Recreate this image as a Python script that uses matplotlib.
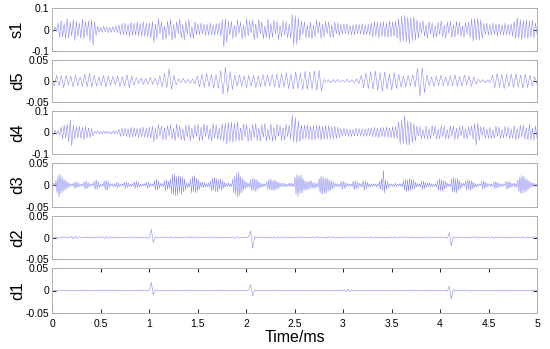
import numpy as np
import matplotlib
matplotlib.use('Agg')
import matplotlib.pyplot as plt

plt.rcParams['font.family'] = ['Liberation Sans', 'DejaVu Sans']
plt.rcParams['axes.unicode_minus'] = False

# extrema of each component, in units of 0.001, read left to right (0..5 ms)
s1 = [8,-10,12,-9,
      30,-38,42,-35,28,-45,50,-40,35,-30,45,-52,38,-33,30,-42,48,-44,36,-30,40,-55,45,-74,35,-28,
      15,-12,10,-14,16,-11,12,-15,10,-13,14,-12,18,-16,
      22,-25,28,-24,30,-27,25,-32,34,-28,30,-26,35,-30,28,-33,36,-31,30,-35,32,-40,
      38,-60,25,-40,50,-22,38,-48,18,-45,40,-28,48,-50,24,-42,36,-20,50,-40,22,-48,38,-24,46,-40,15,-42,38,-26,
      28,-25,30,-22,26,-28,24,-27,30,-25,22,-26,28,-24,30,-32,
      45,-80,50,-60,
      40,-25,38,-42,20,-36,44,-18,35,-46,22,-38,50,-30,40,-16,45,-48,26,-42,46,-20,36,-44,18,-38,48,-45,28,-36,44,-22,38,-46,20,-35,42,-28,36,-40,25,-42,
      70,-72,65,-70,55,-50,
      40,-24,36,-38,20,-40,35,-45,22,-36,44,-18,36,-42,24,-35,40,-20,37,-36,22,-38,35,-20,32,-30,
      24,-22,26,-20,28,-24,20,-26,22,-25,26,-20,24,-22,28,-26,22,-24,25,-28,
      32,-35,38,-30,36,-40,34,-32,38,-36,30,-38,40,-34,36,-32,38,-42,
      50,-58,62,-55,66,-60,58,-65,55,-52,60,-50,45,-40,
      35,-18,40,-32,22,-42,38,-20,32,-40,18,-36,34,-24,40,-35,20,-42,36,-18,40,-38,22,-36,38,-26,35,-32,18,-36,34,-22,36,-38,
      50,-55,52,-48,55,-50,45,-42,
      28,-25,30,-26,24,-28,30,-24,26,-30,28,-25,22,-27,30,-26,24,-28,26,-30,
      38,-42,55,-40,45,-48,42,-38,46,-44,40,-36,44,-42,30,-20]

d5 = [10,-12,14,-11,12,-15,13,-10,12,-14,15,-12,10,-13,16,-14,18,-15,14,-12,10,-11,13,-15,12,-10,11,-9,12,-14,10,-12,15,-16,12,-10,
      8,-6,7,-8,6,-7,9,-8,7,-10,
      12,-14,18,-16,30,-20,14,-10,
      5,-4,6,-5,4,-6,5,-7,
      12,-14,16,-15,18,-14,16,-18,15,-17,
      25,-32,33,-28,22,-20,
      14,-12,15,-13,12,-16,14,-12,13,-15,12,-14,16,-13,14,-12,
      15,-14,17,-16,18,-15,20,-18,16,-20,22,-18,19,-21,23,-20,22,-19,24,-22,
      25,-24,
      4,-3,3,-4,3,-3,4,-3,2,-3,4,-3,3,-4,5,-6,
      14,-16,20,-18,22,-20,24,-22,20,-25,22,-20,18,-22,20,-18,16,-15,
      12,-14,13,-12,15,-14,
      30,-36,32,-28,
      14,-12,10,-13,12,-11,14,-12,10,-11,13,-12,15,-13,11,-12,14,-10,12,-13,10,-8,
      4,-3,3,-4,3,-4,
      14,-16,18,-15,16,-18,15,-14,17,-16,18,-15,14,-17,16,-15,14,-12,10,-8]

d4 = [8,-10,12,-9,10,-12,
      25,-30,35,-28,40,-45,58,-62,35,-30,28,-25,
      30,-28,25,-32,30,-26,22,-24,18,-15,
      6,-5,7,-6,5,-8,6,-5,7,-6,5,-7,6,-5,8,-7,
      15,-18,20,-16,22,-20,18,-22,24,-20,22,-18,20,-24,22,-20,25,-22,20,-24,26,-28,
      30,-45,20,-32,38,-18,30,-36,22,-35,32,-16,36,-30,20,-38,40,-24,32,-34,18,-40,35,-22,36,-38,20,-30,36,-18,38,-40,24,-36,40,-20,35,-32,18,-40,42,-26,36,-34,20,-36,40,-42,
      45,-55,48,-44,50,-46,42,-40,
      50,-40,22,-38,40,-20,38,-42,18,-38,40,-24,42,-38,20,-40,38,-22,42,-40,16,-35,40,-42,24,-38,40,-18,34,-38,22,-36,38,-20,36,-32,
      82,-45,70,-48,55,-42,
      35,-32,34,-30,36,-33,30,-35,32,-34,36,-30,33,-35,30,-32,34,-31,33,-30,28,-32,30,-28,26,-25,
      18,-16,20,-15,18,-20,16,-18,15,-17,20,-16,18,-15,17,-19,16,-18,20,-17,
      22,-20,24,-22,20,-25,22,-20,24,-22,26,-24,22,-25,28,-26,30,-28,
      50,-55,60,-52,80,-58,55,-60,50,-48,42,-40,
      30,-16,28,-30,14,-28,30,-32,18,-30,32,-15,30,-33,16,-30,32,-20,30,-31,14,-30,32,-18,30,-33,20,-30,28,-16,30,-29,18,-30,28,-14,30,-32,
      42,-60,45,-38,
      28,-14,26,-28,16,-27,25,-29,12,-26,30,-18,26,-30,14,-27,29,-20,28,-30,16,-28,30,-33,18,-30,34,-20,35,-33,22,-34,38,-35,20,-36,30,-25]

d3 = [3,-2,4,-3, 10,-18,22,-28,25,-20,18,-15,14,-12,10,-8,6,-5, 3,-2,2,-3, 6,-8,7,-6,5,-4,
      2,-3,2,-2, 7,-9,10,-8,6,-5, 3,-2,3,-2, 8,-10,12,-10,8,-6, 2,-3,2,-3, 9,-11,10,-12,8,-6,
      3,-2,3,-4,2,-3, 6,-7,5,-4, 2,-3,2,-2, 6,-8,7,-6,5,-4, 2,-3,3,-2, 7,-8,9,-7,6,-5,
      2,-3,2,-2,3,-2, 6,-8,7,-5, 3,-2,2,-3, 10,-12,14,-11,9,-7, 4,-3,3,-4, 10,-14,12,-10,8,-7,
      14,-20,24,-22,26,-25,20,-24,22,-18,20,-22,18,-16,14,-12, 5,-6,4,-5,
      14,-18,20,-16,22,-18,15,-14,12,-10, 6,-5,7,-6,5,-4,3,-4,5,-6,
      10,-14,16,-12,18,-15,14,-16,12,-10,14,-12,10,-8,6,-5, 4,-3,5,-4,3,-4,
      14,-18,20,-22,25,-28,30,-24,20,-18,15,-12,10,-8, 6,-5,4,-6,
      12,-14,16,-12,14,-15,12,-10,8,-7, 4,-5,3,-4,3,-2,
      8,-10,12,-11,14,-12,10,-13,12,-10,8,-9,6,-5, 4,-3,5,-4,3,-4,2,-3,4,-3,5,-4,3,-4,
      18,-22,24,-26,22,-20,24,-18,15,-12, 10,-12,8,-10,9,-8,10,-7,6,-8,5,-6,4,-5,
      15,-18,20,-22,18,-20,16,-19,15,-14,12,-13,10,-9,8,-6, 4,-3,3,-4,2,-3,
      8,-10,9,-8,6,-5, 3,-2,3,-3,2,-3, 9,-11,10,-9,7,-6, 4,-3,3,-4, 10,-12,9,-8,6,-5,
      3,-4,2,-3,3,-2,3,-4,2,-3, 8,-10,14,-12,34,-18,12,-10,8,-6,
      3,-2,3,-4,2,-3,4,-3,2,-3,3,-2,3,-4, 10,-12,14,-16,12,-14,15,-12,13,-10,12,-8,6,-5,
      4,-3,3,-4, 8,-10,9,-8,6,-5, 4,-3,5,-4,3,-4,2,-3,3,-4, 10,-12,14,-13,12,-14,10,-9,8,-6,
      4,-3,3,-4, 14,-16,18,-17,15,-18,16,-12,10,-8, 4,-3,4,-3, 9,-11,12,-10,11,-12,10,-8,6,-5,
      3,-4,2,-3,3,-2, 8,-9,10,-8,6,-5, 3,-2,3,-4,2,-3, 7,-9,8,-7,6,-5, 3,-4,2,-3,3,-2,
      8,-10,9,-8,7,-6, 4,-3,5,-4,3,-5, 12,-15,18,-20,22,-18,20,-17,15,-14,12,-10,8,-6,
      5,-4,4,-3,3,-2]

d2 = [2,-2,1.5,-1.5,1,-1.5,1.5,-1,1,-1, 3,-3.5,3,-2.5,2,-1.5,1,-1,1.5,-1,
      1,-1.5,1,-1,1.5,-1,2,-2.5,2.5,-2, 2,-1.5,1,-1,1,-1,1.5,-1,1,-1.5,
      1.5,-2,2,-1.5,1,-1,1.5,-1.5,1,-2, 1,19,-12,2,-1.5,1,-1,1.5,-1,1,
      -1.5,2,-2,1.5,-1,1,-1.5,1,-1,1.5, -2,2.5,-2,2,-1.5,1,-1,1.5,-1,1,
      -1,1.5,-2,2,-1.5,1,-1,1,-1.5,1, -1,1.5,-1,2,-2.5,2,-1.5,1,-1,1.5,
      -1.5,2,15,-25,2,-1.5,1.5,-1,1.5,-1, 1,-1.5,1,-1,1.5,-2,2.5,-2,2,-1.5,
      1,-1,1.5,-1,1,-1.5,2,-2,1.5,-1, 1,-1,1.5,-1.5,2,-2,1.5,-1,1,-1,
      1.5,-2,2.5,-2,1.5,-1,1,-1.5,1,-1, 1,-1.5,2,-2,2.5,-2,1.5,-1,1,-1,
      1.5,-1,1,-1.5,2,-2,1.5,-1.5,1,-1, 1,-1.5,1,-1,1.5,-2,2,-1.5,1,-1,
      1.5,-1,2,-2,1.5,-1,1,-1.5,1,-1, 1,-1.5,2,-2,1.5,-1,1,-1,1.5,-1,
      1,-1.5,1.5,-2,12,-20,2,-1.5,1.5,-1.5, 1.5,-1,1,-1.5,1,-1,1.5,-1,2,-2,
      1.5,-1,1,-1,1.5,-1.5,2,-2.5,2,-1.5, 1,-1,1.5,-1,1,-1.5,1,-1,1.5,-1,
      1,-1.5,2,-2,1.5,-1,1,-1.5,2,-1]

d1 = [1,-1,0.5,-0.5,1,-0.5,0.5,-1,0.5,-0.5, 0.5,-0.5,1,-1,0.5,-0.5,1,-1,1.5,-1,
      1,-0.5,0.5,-1,1,-1,1.5,-1,1,-0.5, 1,-1,1.5,-1,1,-0.5,0.5,-1,0.5,-0.5,
      0.5,-0.5,1,-1,1.5,-1,1,-0.5,0.5,-1, 1,18,-10,1.5,-1,1,-1,0.5,-0.5,1,
      -1,1,-0.5,0.5,-1,1,-0.5,0.5,-1,1, -1,1.5,-1,1,-0.5,0.5,-0.5,1,-1,0.5,
      -0.5,1,-1,0.5,-0.5,1,-1,1,-0.5,0.5, -0.5,1,-1,1,-1,0.5,-0.5,1,-1,0.5,
      -1,1,13,-12,1.5,-1,1,-1,0.5,-0.5, 1,-1,0.5,-0.5,1,-1,1,-0.5,0.5,-1,
      1,-0.5,0.5,-1,1,-1,0.5,-0.5,1,-1, 0.5,-0.5,1,-1,0.5,-0.5,1,-1,1,-0.5,
      0.5,-1,1,-1,0.5,-0.5,1,-0.5,0.5,-1, 2,-3,3,-2,1,-1,0.5,-0.5,1,-1,
      0.5,-0.5,1,-1,1,-0.5,0.5,-1,1,-1, 1,-0.5,0.5,-1,1,-1,0.5,-0.5,1,-1,
      0.5,-0.5,1,-1,1,-0.5,1.5,-1,1,-1, 0.5,-0.5,1,-1,1,-1,0.5,-0.5,1,-1,
      0.5,-1,1,-1.5,10,-19,1.5,-1,1,-1, 1,-1,1.5,-1,1,-1.5,1,-0.5,0.5,-1,
      1,-0.5,0.5,-1,1,-1,0.5,-0.5,1,-1, 0.5,-0.5,1,-1,1,-0.5,0.5,-1,1,-1,
      0.5,-0.5,1,-1,0.5,-0.5,1,-1,1.5,-1]

names = ['s1', 'd5', 'd4', 'd3', 'd2', 'd1']
series = [s1, d5, d4, d3, d2, d1]
ylims = [0.1, 0.05, 0.1, 0.05, 0.05, 0.05]
ytick_labels = [['-0.1', '0', '0.1'], ['-0.05', '0', '0.05'], ['-0.1', '0', '0.1'],
                ['-0.05', '0', '0.05'], ['-0.05', '0', '0.05'], ['-0.05', '0', '0.05']]
xticks = [0, 0.5, 1, 1.5, 2, 2.5, 3, 3.5, 4, 4.5, 5]
xtick_labels = ['0', '0.5', '1', '1.5', '2', '2.5', '3', '3.5', '4', '4.5', '5']

fig = plt.figure(figsize=(5.5, 3.49), dpi=100)
W, H = 550.0, 349.0
tops = [8, 60, 111, 163, 216, 268]
bots = [51, 102, 154, 207, 259, 313]
left, right = 52, 537

for i in range(6):
    ax = fig.add_axes([left / W, 1 - bots[i] / H, (right - left) / W, (bots[i] - tops[i]) / H])
    v = np.array(series[i]) * 0.001
    t = np.linspace(0, 5, len(v))
    ax.plot(t, v, color='#7f7ff2', lw=0.35)
    lim = ylims[i]
    ax.set_xlim(0, 5)
    ax.set_ylim(-lim, lim)
    ax.set_yticks([-lim, 0, lim])
    ax.set_yticklabels(ytick_labels[i])
    for sp in ax.spines.values():
        sp.set_color('#b0b0b0')
        sp.set_linewidth(0.7)
    ax.tick_params(axis='y', direction='in', length=3, width=0.6, right=True,
                   labelsize=7.5, pad=2, colors='black')
    if i == 5:
        ax.set_xticks(xticks)
        ax.set_xticklabels(xtick_labels)
        ax.tick_params(axis='x', direction='in', length=3, width=0.6, top=True,
                       labelsize=7.5, pad=4)
        ax.set_xlabel('Time/ms', fontsize=11.5, labelpad=1)
    else:
        ax.set_xticks([])
    ax.set_ylabel(names[i], fontsize=12)
    ax.yaxis.set_label_coords(-0.056, 0.5)

fig.savefig('out.png', dpi=100)
